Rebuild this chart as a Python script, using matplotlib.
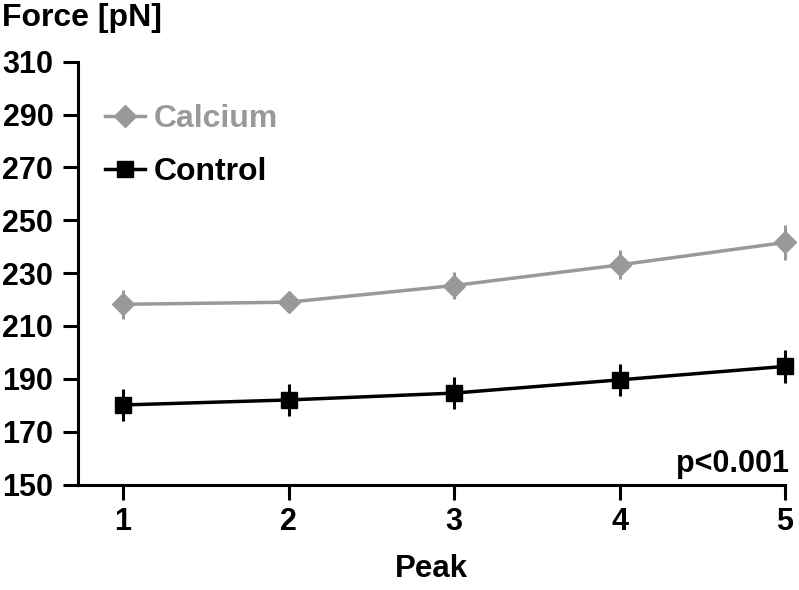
import numpy as np
import matplotlib
matplotlib.use("Agg")
import matplotlib.pyplot as plt

plt.rcParams['font.family'] = ['Liberation Sans', 'DejaVu Sans']
plt.rcParams['font.weight'] = 'bold'

peak = [1, 2, 3, 4, 5]
calcium = [218.2, 219.0, 225.3, 233.1, 241.6]
calcium_err = [5.4, 3.0, 5.0, 5.5, 6.7]
control = [180.1, 182.0, 184.6, 189.6, 194.7]
control_err = [5.9, 6.0, 5.9, 6.0, 6.3]

grey = '#999999'

fig = plt.figure(figsize=(7.99, 5.90), dpi=100)
ax = fig.add_axes([0.0972, 0.1788, 0.8853, 0.7166])

# error bars (no caps), then lines+markers on top
ax.errorbar(peak, calcium, yerr=calcium_err, fmt='none', ecolor=grey, elinewidth=2.2,
            capsize=0, clip_on=False, zorder=2)
ax.errorbar(peak, control, yerr=control_err, fmt='none', ecolor='black', elinewidth=2.2,
            capsize=0, clip_on=False, zorder=2)
ax.plot(peak, calcium, color=grey, marker='D', ms=11, lw=2.5, label='Calcium',
        clip_on=False, zorder=3)
ax.plot(peak, control, color='black', marker='s', ms=12, lw=2.5, label='Control',
        clip_on=False, zorder=3)

ax.set_xlim(0.726, 5)
ax.set_ylim(150, 310)
ax.set_xticks(peak)
ax.set_yticks(np.arange(150, 311, 20))
for s in ['top', 'right']:
    ax.spines[s].set_visible(False)
for s in ['left', 'bottom']:
    ax.spines[s].set_linewidth(2.2)
ax.tick_params(width=2.2, length=10.5, labelsize=22)
ax.tick_params(axis='y', pad=7)
ax.tick_params(axis='x', pad=6)

ax.set_xlabel('Peak', fontsize=22.5, fontweight='bold', labelpad=12)
fig.text(0.003, 1 - 18 / 590, 'Force [pN]', fontsize=23, fontweight='bold', va='center', ha='left')
ax.text(1.005, 0.03, 'p<0.001', transform=ax.transAxes, fontsize=22, fontweight='bold',
        ha='right', va='baseline')

leg = ax.legend(loc='upper left', bbox_to_anchor=(0.02, 0.93), frameon=False, fontsize=23,
                handlelength=1.25, handletextpad=0.3, labelspacing=0.72, borderaxespad=0)
for txt, c in zip(leg.get_texts(), [grey, 'black']):
    txt.set_color(c)
    txt.set_fontweight('bold')

fig.savefig('out.png', dpi=100)
